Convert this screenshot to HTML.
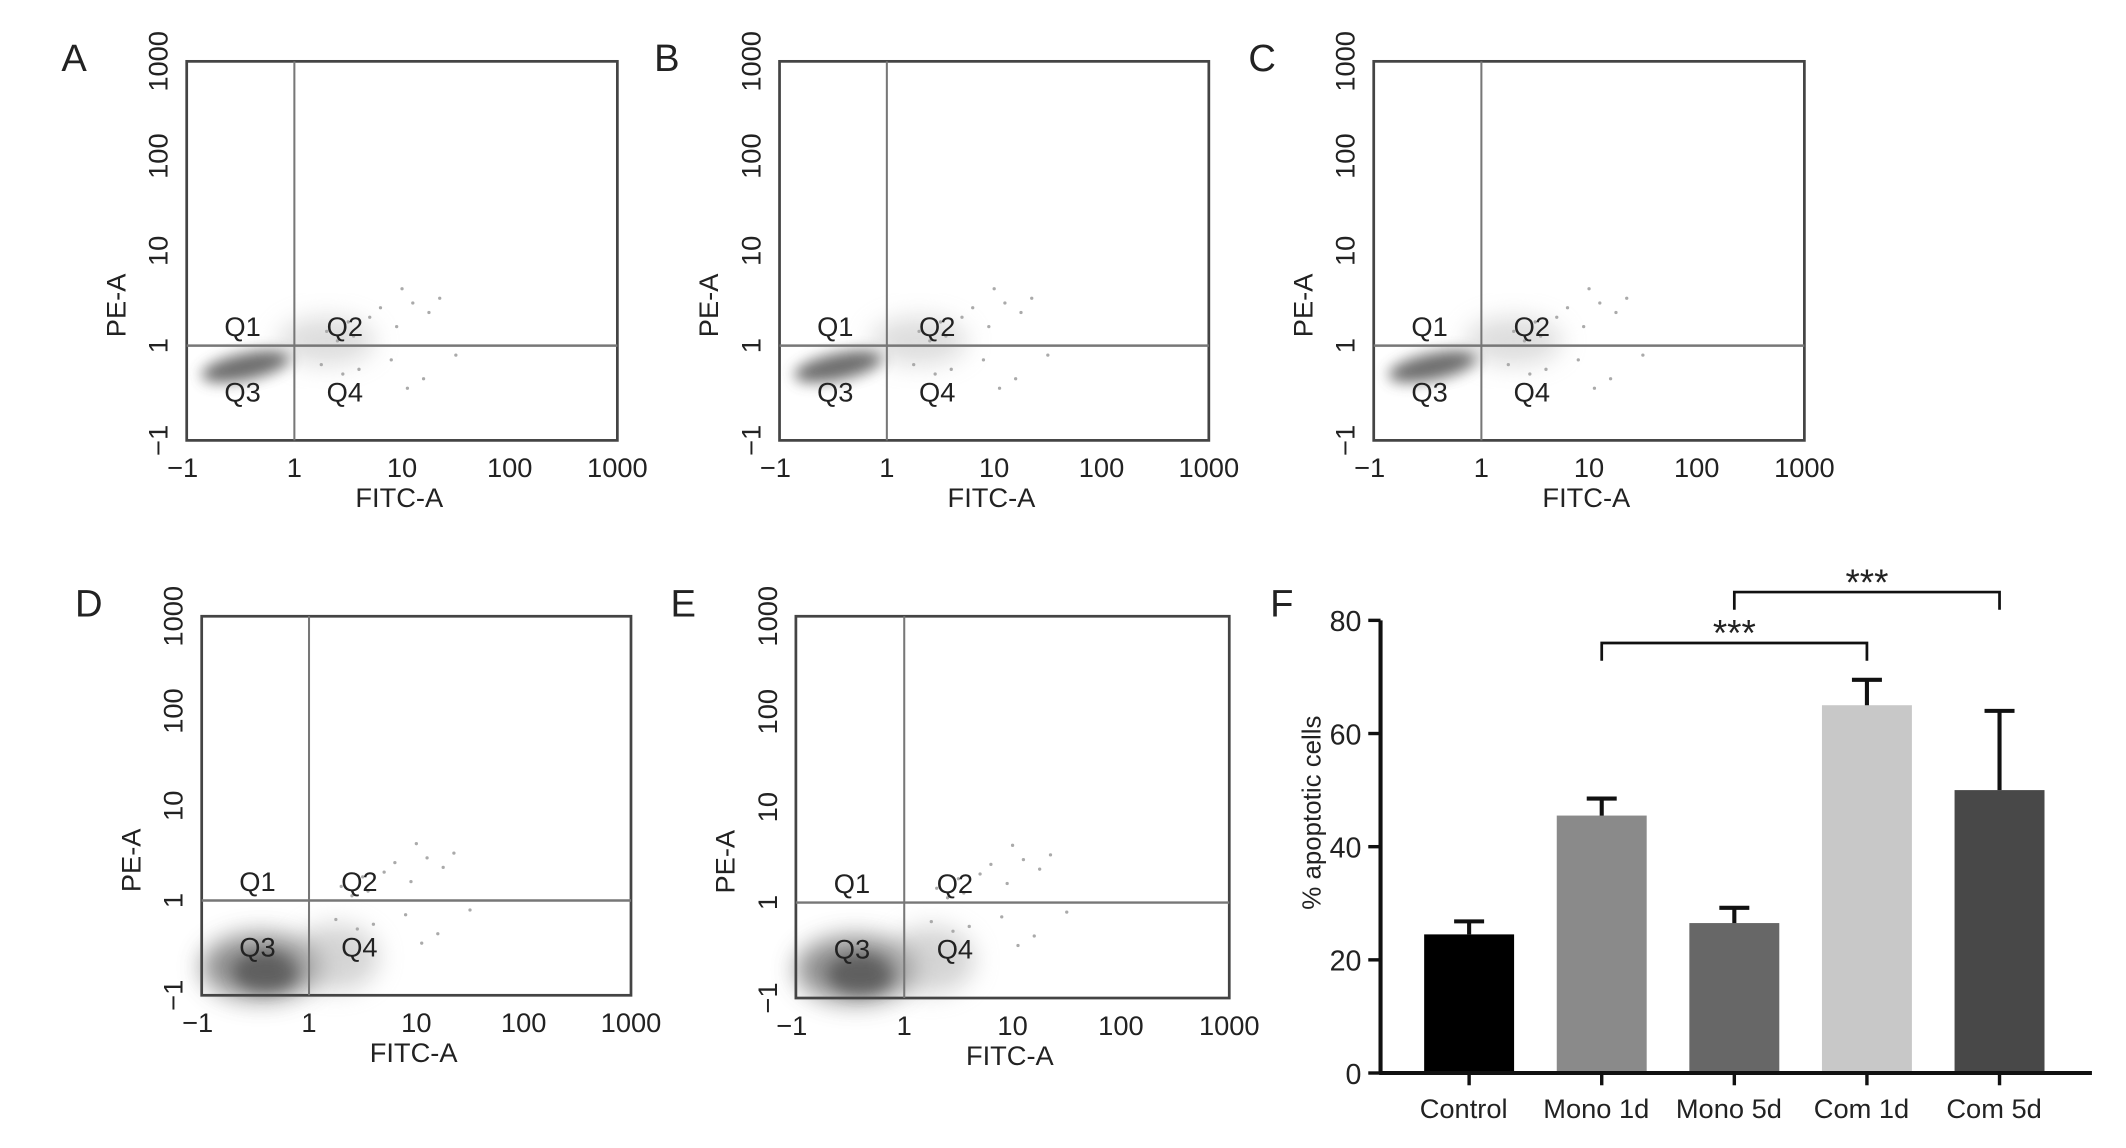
<!DOCTYPE html>
<html><head><meta charset="utf-8"><style>
html,body{margin:0;padding:0;background:#fff;width:2126px;height:1148px;overflow:hidden}
svg{display:block}
text{font-family:"Liberation Sans",sans-serif;fill:#222}
</style></head><body>
<svg id="fig" width="2126" height="1148" viewBox="0 0 1560 842" preserveAspectRatio="none" xmlns="http://www.w3.org/2000/svg">
<defs>
<filter id="blur3" x="-50%" y="-50%" width="200%" height="200%"><feGaussianBlur stdDeviation="5"/></filter>
<filter id="blur6" x="-50%" y="-50%" width="200%" height="200%"><feGaussianBlur stdDeviation="9"/></filter>
</defs>
<g id="root"></g>
</svg>
<script>
// ---- Bar chart data (panel F) ----
const categories = ["Control","Mono 1d","Mono 5d","Com 1d","Com 5d"];
const meanValues = [24.5, 45.5, 26.5, 65, 50];
const errorValues = [2.3, 3.0, 2.7, 4.5, 14];
const yTicks = [0, 20, 40, 60, 80];
const barColors = ["#000000","#8a8a8a","#676767","#c8c8c8","#484848"];
// ---- Flow panel tick labels ----
const flowTicks = ["\u22121","1","10","100","1000"];
const sparseX = [0.3,0.5,0.8,1.0,1.1,1.35,0.6,0.9,1.2,0.4,1.5,0.7,1.05,0.25,0.55,0.95,1.25,0.45];
const sparseY = [0.3,0.5,0.8,1.2,0.9,1.0,-0.5,-0.3,-0.7,0.1,-0.2,0.6,-0.9,-0.4,0.2,0.4,0.7,-0.6];

const NS="http://www.w3.org/2000/svg";
const root=document.getElementById('root');
function el(tag,attrs,parent){const e=document.createElementNS(NS,tag);for(const k in attrs)e.setAttribute(k,attrs[k]);(parent||root).appendChild(e);return e;}
function txt(s,attrs,parent){const e=el('text',attrs,parent);e.textContent=s;return e;}

const panels=[
 {id:"A",x0:137,x1:453,y0:45,y1:323,lx:45,ly:52,dense:false},
 {id:"B",x0:572,x1:887,y0:45,y1:323,lx:480,ly:52,dense:false},
 {id:"C",x0:1008,x1:1324,y0:45,y1:323,lx:916,ly:52,dense:false},
 {id:"D",x0:148,x1:463,y0:452,y1:730,lx:55,ly:452,dense:true},
 {id:"E",x0:584,x1:902,y0:452,y1:732,lx:492,ly:452,dense:true}
];
panels.forEach(p=>{
 const g=el('g',{});  
 const dx=(p.x1-p.x0)/4, dy=(p.y1-p.y0)/4;
 const gx=p.x0+dx, gy=p.y1-dy;
 const t=txt(p.id,{x:p.lx,y:p.ly,'font-size':28},g);  
 const cl=el('g',{},g);  
 if(!p.dense){
  el('ellipse',{cx:p.x0+dx*0.55,cy:gy+dy*0.22,rx:dx*0.42,ry:dy*0.14,fill:'#555',opacity:0.85,filter:'url(#blur3)',transform:`rotate(-12 ${p.x0+dx*0.55} ${gy+dy*0.22})`},cl);
  el('ellipse',{cx:gx+dx*0.3,cy:gy-dy*0.05,rx:dx*0.45,ry:dy*0.25,fill:'#bbb',opacity:0.5,filter:'url(#blur6)'},cl);
 } else {
  el('ellipse',{cx:p.x0+dx*0.55,cy:p.y1-dy*0.3,rx:dx*0.55,ry:dy*0.35,fill:'#777',opacity:0.85,filter:'url(#blur6)'},cl);
  el('ellipse',{cx:p.x0+dx*0.6,cy:p.y1-dy*0.25,rx:dx*0.3,ry:dy*0.2,fill:'#555',opacity:0.8,filter:'url(#blur3)'},cl);
  el('ellipse',{cx:gx+dx*0.25,cy:p.y1-dy*0.4,rx:dx*0.4,ry:dy*0.35,fill:'#aaa',opacity:0.5,filter:'url(#blur6)'},cl);
 }
 sparseX.forEach((v,i)=>{el('circle',{cx:gx+v*dx,cy:gy-sparseY[i]*dy*0.5,r:1.2,fill:'#aaa'},cl);});
 const box=el('rect',{x:p.x0,y:p.y0,width:p.x1-p.x0,height:p.y1-p.y0,fill:'none',stroke:'#444','stroke-width':2},g);  
 const vg=el('line',{x1:gx,y1:p.y0,x2:gx,y2:p.y1,stroke:'#777','stroke-width':1.5},g);  
 const hg=el('line',{x1:p.x0,y1:gy,x2:p.x1,y2:gy,stroke:'#777','stroke-width':1.8},g);  
 [["Q1",p.x0+dx*0.35,gy-7],["Q2",gx+dx*0.3,gy-7],["Q3",p.x0+dx*0.35,gy+41],["Q4",gx+dx*0.3,gy+41]].forEach(q=>{
  const e=txt(q[0],{x:q[1],y:q[2],'font-size':20},g);  });
 flowTicks.forEach((s,i)=>{
  const x=p.x0+dx*i;
  const e=txt(s,{x:x+(i===0?-3:0),y:p.y1+27,'font-size':20,'text-anchor':'middle'},g);  
  const y=p.y1-dy*i; const yx=p.x0-14;
  const f=txt(s,{x:yx,y:y,'font-size':20,'text-anchor':'middle',transform:`rotate(-90 ${yx} ${y})`},g);  
 });
 const xt=txt("FITC-A",{x:(p.x0+p.x1)/2-2,y:p.y1+49,'font-size':20,'text-anchor':'middle'},g);  
 const ax=p.x0-45, ay=(p.y0+p.y1)/2+40;
 const yt=txt("PE-A",{x:ax,y:ay,'font-size':20,'text-anchor':'middle',transform:`rotate(-90 ${ax} ${ay})`},g);  
});

// ---- Panel F ----
const F=el('g',{});  
const ax0=1013, axEnd=1535, yZero=787, yTop=455, yMax=80;
const yS=v=>yZero-(v/yMax)*(yZero-yTop);
const xS=i=>1078+i*97.3;
const bw=66;
const fl=txt("F",{x:932,y:452,'font-size':28},F);  
categories.forEach((c,i)=>{
 const cx=xS(i), top=yS(meanValues[i]), et=yS(meanValues[i]+errorValues[i]);
 const b=el('rect',{x:cx-bw/2,y:top,width:bw,height:yZero-top,fill:barColors[i]},F);
  
 const e=el('path',{d:`M${cx} ${top}V${et}M${cx-11} ${et}H${cx+11}`,stroke:'#111','stroke-width':3,fill:'none'},F);
  
 el('line',{x1:cx,y1:yZero,x2:cx,y2:yZero+9,stroke:'#111','stroke-width':2.5},F);
 const l=txt(c,{x:cx-4,y:yZero+33,'font-size':20,'text-anchor':'middle'},F);  
});
el('line',{x1:ax0,y1:yTop,x2:ax0,y2:yZero+1,stroke:'#111','stroke-width':3},F);
el('line',{x1:ax0-1,y1:yZero,x2:axEnd,y2:yZero,stroke:'#111','stroke-width':3},F);
yTicks.forEach(v=>{
 const y=yS(v);
 el('line',{x1:ax0-9,y1:y,x2:ax0,y2:y,stroke:'#111','stroke-width':2.5},F);
 const t=txt(String(v),{x:ax0-14,y:y+8,'font-size':21,'text-anchor':'end'},F);  
});
const yx=969, yy=(yTop+yZero)/2-25;
const yt=txt("% apoptotic cells",{x:yx,y:yy,'font-size':19,'text-anchor':'middle',transform:`rotate(-90 ${yx} ${yy})`},F);  
function bracket(i1,i2,v,name){
 const y=yS(v), xa=xS(i1), xb=xS(i2);
 const p=el('path',{d:`M${xa} ${y+13}V${y}H${xb}V${y+13}`,stroke:'#111','stroke-width':2,fill:'none'},F);
  
 const s=txt("***",{x:(xa+xb)/2,y:y+2,'font-size':27,'text-anchor':'middle'},F);  
}
bracket(1,3,76,'bracket-mono1d-com1d');
bracket(2,4,85,'bracket-mono5d-com5d');
</script>
</body></html>
